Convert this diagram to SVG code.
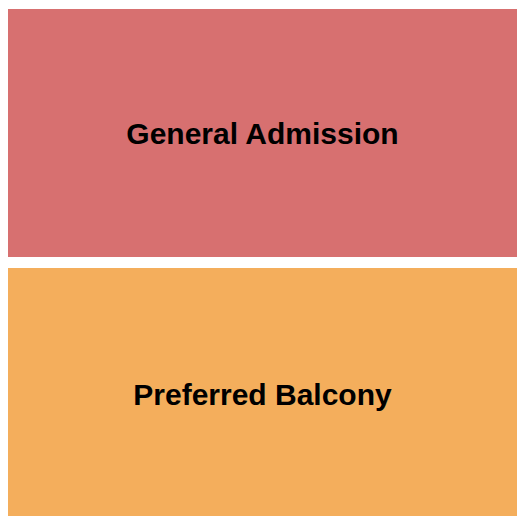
<svg xmlns="http://www.w3.org/2000/svg" width="525" height="525" viewBox="0 0 525 525">
<style>
.lbl{font-family:"Liberation Sans",Arial,sans-serif;font-weight:bold;font-size:30px;fill:#000;text-anchor:middle}
</style>
<rect width="525" height="525" fill="#fff"/>
<g id="general-admission">
<rect x="8" y="9" width="509" height="248" fill="#D77070"/>
<text class="lbl" x="262.5" y="144">General Admission</text>
</g>
<g id="preferred-balcony">
<rect x="8" y="268" width="509" height="248" fill="#F4AE5C"/>
<text class="lbl" x="262.5" y="404.5">Preferred Balcony</text>
</g>
<g id="connectors"/>
</svg>
